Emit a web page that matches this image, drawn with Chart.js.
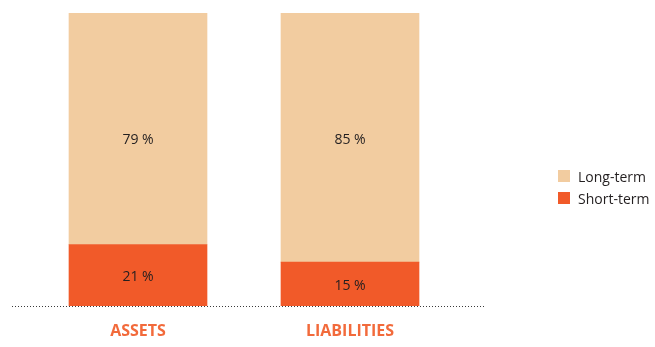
<!DOCTYPE html>
<html>
<head>
<meta charset="utf-8">
<script src="https://cdn.jsdelivr.net/npm/chart.js@4"></script>
<style>
  body { margin: 0; background: #fff; }
  #wrap { position: relative; width: 655px; height: 347px; }
  #legend { position: absolute; left: 558px; top: 165px; font: 14px "Open Sans", sans-serif; color: #231f20; }
  .item { display: flex; align-items: center; height: 22px; }
  .sw { width: 12px; height: 12px; margin-right: 8px; }
</style>
</head>
<body>
<div id="wrap">
  <canvas id="chart" width="655" height="347"></canvas>
  <div id="legend"></div>
</div>
<script>
const categories = ["ASSETS", "LIABILITIES"];
const shortTerm = [21, 15];
const longTerm = [79, 85];
const seriesNames = ["Short-term", "Long-term"];
const seriesColors = ["#f15a29", "#f2cca0"];

// dotted baseline running past both bars
const baseline = {
  id: "baseline",
  beforeDatasetsDraw(chart) {
    const ctx = chart.ctx;
    const y = Math.round(chart.chartArea.bottom) + 0.5;
    ctx.save();
    ctx.strokeStyle = "#3a3a3a";
    ctx.lineWidth = 1;
    ctx.setLineDash([1, 2]);
    ctx.beginPath();
    ctx.moveTo(12, y);
    ctx.lineTo(485, y);
    ctx.stroke();
    ctx.restore();
  }
};

// percentage text: short-term centred in its segment,
// long-term on one row at the middle of the tallest segment
const valueLabels = {
  id: "valueLabels",
  afterDatasetsDraw(chart) {
    const ctx = chart.ctx;
    const last = chart.data.datasets.length - 1;
    ctx.save();
    ctx.font = '14px "Open Sans", sans-serif';
    ctx.fillStyle = "#231f20";
    ctx.textAlign = "center";
    ctx.textBaseline = "middle";
    chart.data.datasets.forEach((ds, i) => {
      const bars = chart.getDatasetMeta(i).data;
      const mids = bars.map(b => (b.y + b.base) / 2);
      const row = Math.max(...mids);
      bars.forEach((bar, j) => {
        const y = i === last ? row : mids[j];
        ctx.fillText(ds.data[j] + " %", bar.x, y + 2);
      });
    });
    ctx.restore();
  }
};

new Chart(document.getElementById("chart"), {
  type: "bar",
  data: {
    labels: categories,
    datasets: [
      { label: seriesNames[0], data: shortTerm, backgroundColor: seriesColors[0] },
      { label: seriesNames[1], data: longTerm, backgroundColor: seriesColors[1] }
    ]
  },
  options: {
    responsive: false,
    animation: false,
    barThickness: 138,
    layout: { padding: { top: 13, left: 32, right: 199, bottom: 0 } },
    plugins: { legend: { display: false }, tooltip: { enabled: false } },
    scales: {
      x: {
        stacked: true,
        grid: { display: false, drawTicks: false },
        border: { display: false },
        afterFit(scale) { scale.height = 41; },
        ticks: {
          padding: 16,
          color: "#f26a3b",
          font: { family: "Open Sans", size: 16, weight: "bold" }
        }
      },
      y: { stacked: true, display: false, min: 0, max: 100 }
    }
  },
  plugins: [baseline, valueLabels]
});

// legend, long-term listed first
const legend = document.getElementById("legend");
[1, 0].forEach(i => {
  const row = document.createElement("div");
  row.className = "item";
  row.innerHTML = `<span class="sw" style="background:${seriesColors[i]}"></span>${seriesNames[i]}`;
  legend.appendChild(row);
});
</script>
</body>
</html>
